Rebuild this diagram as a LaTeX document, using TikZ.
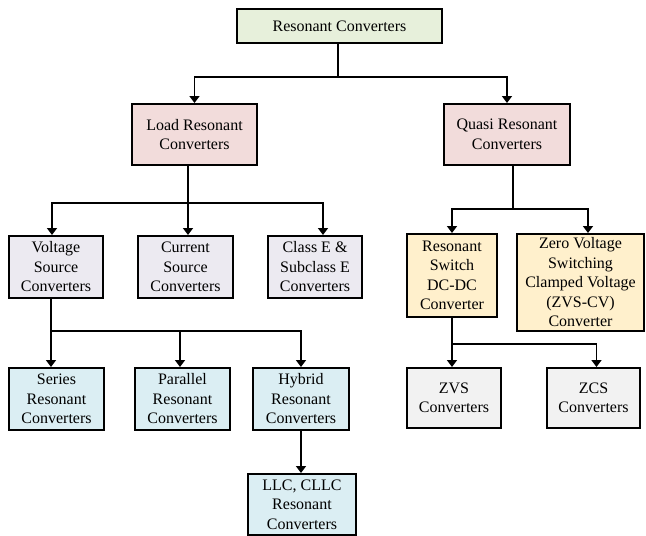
\documentclass[tikz,border=0pt]{standalone}
\usepackage{fontspec}
\setmainfont{Liberation Serif}
\usetikzlibrary{arrows.meta}
\definecolor{cgreen}{HTML}{E7F0DB}
\definecolor{cpink}{HTML}{F2DCDB}
\definecolor{clav}{HTML}{ECEAF1}
\definecolor{cyel}{HTML}{FFF0CC}
\definecolor{cblue}{HTML}{DBEEF3}
\definecolor{cgray}{HTML}{F2F2F2}
\tikzset{
  box/.style={draw=black, line width=2pt, align=center, inner sep=0pt,
    font=\fontsize{16}{19.5}\selectfont, text=black},
  conn/.style={line width=1.8pt, draw=black},
  arr/.style={conn, -{Triangle[width=10pt,length=7pt]}},
}
\begin{document}
\begin{tikzpicture}[x=1pt,y=-1pt]
\useasboundingbox (0,0) rectangle (646,536);
% boxes
\node[box, fill=cgreen, minimum width=205pt, minimum height=34pt] (top) at (339.5,26) {Resonant Converters};
\node[box, fill=cpink, minimum width=125pt, minimum height=61pt] (load) at (194.5,134.5) {Load Resonant\\Converters};
\node[box, fill=cpink, minimum width=126pt, minimum height=61pt] (quasi) at (507,134.5) {Quasi Resonant\\Converters};
\node[box, fill=clav, minimum width=94pt, minimum height=62pt] (volt) at (56,267) {Voltage\\Source\\Converters};
\node[box, fill=clav, minimum width=95pt, minimum height=62pt] (curr) at (185.5,267) {Current\\Source\\Converters};
\node[box, fill=clav, minimum width=94pt, minimum height=62pt] (classe) at (315,267) {Class E \&\\Subclass E\\Converters};
\node[box, fill=cyel, minimum width=90pt, minimum height=83pt] (rsw) at (452,275.5) {Resonant\\Switch\\DC-DC\\Converter};
\node[box, fill=cyel, minimum width=127pt, minimum height=97pt] (zvscv) at (580.5,282.5) {Zero Voltage\\Switching\\Clamped Voltage\\(ZVS-CV)\\Converter};
\node[box, fill=cblue, minimum width=95pt, minimum height=62pt] (series) at (56.5,399) {Series\\Resonant\\Converters};
\node[box, fill=cblue, minimum width=95pt, minimum height=62pt] (par) at (182.5,399) {Parallel\\Resonant\\Converters};
\node[box, fill=cblue, minimum width=96pt, minimum height=62pt] (hyb) at (301,399) {Hybrid\\Resonant\\Converters};
\node[box, fill=cblue, minimum width=108pt, minimum height=61pt] (llc) at (302,504.5) {LLC, CLLC\\Resonant\\Converters};
\node[box, fill=cgray, minimum width=94pt, minimum height=60pt] (zvs) at (454,398) {ZVS\\Converters};
\node[box, fill=cgray, minimum width=93pt, minimum height=60pt] (zcs) at (593.5,398) {ZCS\\Converters};
% junctions
\coordinate (j1) at (338,77);
\coordinate (j2) at (188,203);
\coordinate (j3) at (513,209);
\coordinate (j4) at (51,331);
\coordinate (j5) at (452,344);
% connectors
\draw[conn] (top.south -| j1) -- (j1);
\draw[arr] (j1) -| (load.north);
\draw[arr] (j1) -| (quasi.north);
\draw[conn] (load.south -| j2) -- (j2);
\draw[arr] (j2) -| ([xshift=-4pt]volt.north);
\draw[arr] (j2) -| ([xshift=2.5pt]curr.north);
\draw[arr] (j2) -| ([xshift=8pt]classe.north);
\draw[conn] (quasi.south -| j3) -- (j3);
\draw[arr] (j3) -| (rsw.north);
\draw[arr] (j3) -| ([xshift=7.5pt]zvscv.north);
\draw[conn] (volt.south -| j4) -- (j4);
\draw[arr] (j4) -| ([xshift=-5.5pt]series.north);
\draw[arr] (j4) -| ([xshift=-2.5pt]par.north);
\draw[arr] (j4) -| (hyb.north);
\draw[arr] (hyb.south) -- (llc.north -| hyb.south);
\draw[conn] (rsw.south) -- (j5);
\draw[arr] (j5) -| ([xshift=-2pt]zvs.north);
\draw[arr] (j5) -| ([xshift=3pt]zcs.north);
\end{tikzpicture}
\end{document}
